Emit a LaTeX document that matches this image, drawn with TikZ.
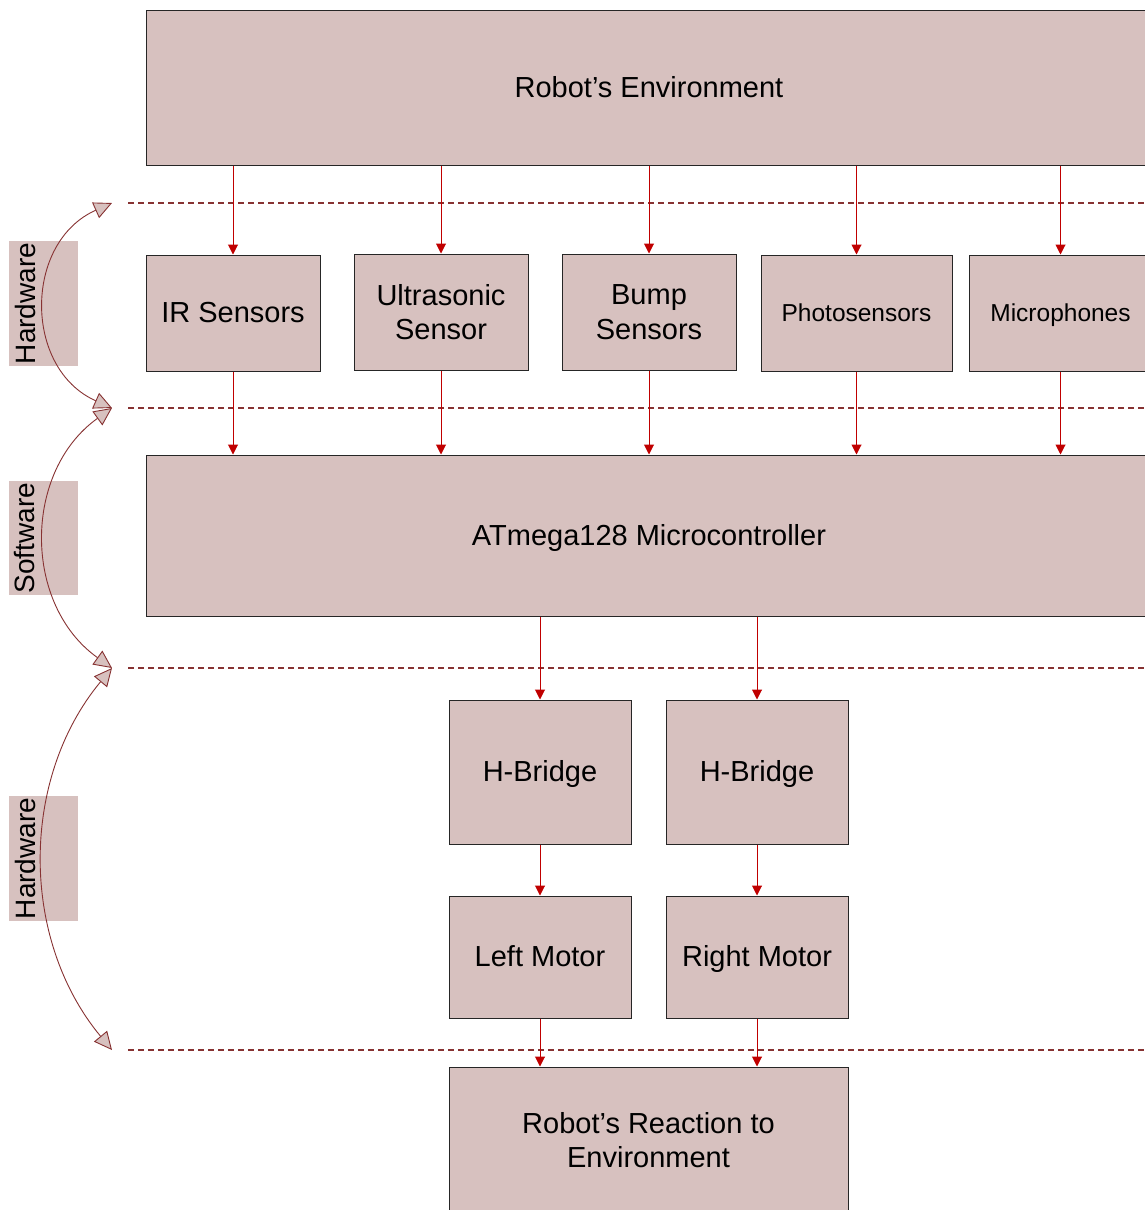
\documentclass[tikz,border=0pt]{standalone}
\usepackage{fontspec}
\setmainfont{Liberation Sans}
\usetikzlibrary{arrows.meta}
\definecolor{boxfill}{RGB}{215,193,191}
\definecolor{flowred}{RGB}{192,0,0}
\definecolor{layerline}{RGB}{135,50,50}
\begin{document}
\begin{tikzpicture}[x=1pt,y=-1pt,
  blk/.style={draw=black!85, line width=1pt, fill=boxfill, inner sep=0pt, align=center,
              font=\fontsize{29}{34.5}\selectfont},
  oneline/.style={text height=19pt, text depth=0pt},
  smallblk/.style={blk, font=\fontsize{24.5}{29}\selectfont, text height=16pt, text depth=0pt},
  flow/.style={draw=flowred, line width=1pt, -{Triangle[length=10pt,width=10pt]}},
  layer/.style={draw=layerline, line width=1.3pt, dash pattern=on 6pt off 4pt},
  span/.style={draw=layerline, line width=0.9pt,
               {Triangle[length=18pt,width=17pt,fill=boxfill]}-{Triangle[length=18pt,width=17pt,fill=boxfill]}},
  tagbox/.style={fill=boxfill, inner sep=0pt, minimum width=69pt},
  taglabel/.style={rotate=90, font=\fontsize{28}{34}\selectfont, inner sep=0pt}]
\useasboundingbox (0,0) rectangle (1145,1210);
\clip (0,0) rectangle (1145,1210);

% layer separators
\coordinate (l1a) at (128,203);  \coordinate (l1b) at (1145,203);
\coordinate (l2a) at (128,408);  \coordinate (l2b) at (1145,408);
\coordinate (l3a) at (128,668);  \coordinate (l3b) at (1145,668);
\coordinate (l4a) at (128,1050); \coordinate (l4b) at (1145,1050);
\draw[layer] (l1a) -- (l1b);
\draw[layer] (l2a) -- (l2b);
\draw[layer] (l3a) -- (l3b);
\draw[layer] (l4a) -- (l4b);

% blocks
\node[blk, oneline, minimum width=1006pt, minimum height=155pt] (env) at (649,87.5) {Robot’s Environment};
\node[blk, oneline, minimum width=174pt, minimum height=116pt] (ir) at (233,313) {IR Sensors};
\node[blk, minimum width=174pt, minimum height=116pt] (us) at (441,312) {Ultrasonic\\Sensor};
\node[blk, minimum width=174pt, minimum height=116pt] (bump) at (649,312) {Bump\\Sensors};
\node[smallblk, minimum width=191pt, minimum height=116pt] (photo) at (856.5,313) {Photosensors};
\node[smallblk, minimum width=183pt, minimum height=116pt] (mic) at (1060.5,313) {Microphones};
\node[blk, oneline, minimum width=1006pt, minimum height=161pt] (mcu) at (649,535.5) {ATmega128 Microcontroller};
\node[blk, oneline, minimum width=182pt, minimum height=144pt] (hb1) at (540,772) {H-Bridge};
\node[blk, oneline, minimum width=182pt, minimum height=144pt] (hb2) at (757,772) {H-Bridge};
\node[blk, oneline, minimum width=182pt, minimum height=122pt] (lm) at (540,957) {Left Motor};
\node[blk, oneline, minimum width=182pt, minimum height=122pt] (rm) at (757,957) {Right Motor};
\node[blk, minimum width=399pt, minimum height=146pt] (react) at (648.5,1140) {Robot’s Reaction to\\Environment};

% flows
\foreach \s in {ir,us,bump,photo,mic}{
  \draw[flow] (env.south -| \s) -- (\s.north);
  \draw[flow] (\s.south) -- (mcu.north -| \s);
}
\draw[flow] (mcu.south -| hb1) -- (hb1.north);
\draw[flow] (mcu.south -| hb2) -- (hb2.north);
\draw[flow] (hb1.south) -- (lm.north);
\draw[flow] (hb2.south) -- (rm.north);
\draw[flow] (lm.south) -- (react.north -| lm);
\draw[flow] (rm.south) -- (react.north -| rm);

% side tags
\node[tagbox, minimum height=125pt] (tag1) at (43.5,303.5) {};
\node[taglabel] (lab1) at (25,303.5) {Hardware};
\node[tagbox, minimum height=114pt] (tag2) at (43.5,538) {};
\node[taglabel] (lab2) at (25,538) {Software};
\node[tagbox, minimum height=125pt] (tag3) at (43.5,858.5) {};
\node[taglabel] (lab3) at (25,858.5) {Hardware};

% spans
\coordinate (s1) at (112,203);
\coordinate (s2) at (112,408);
\coordinate (s3) at (112,668);
\coordinate (s4) at (112,1050);
\draw[span] (s1) .. controls (23.5,242.4) and (23.5,368.6) .. (s2);
\draw[span] (s2) .. controls (22.8,471.7) and (22.8,604.3) .. (s3);
\draw[span] (s3) .. controls (20,778.7) and (20,939.3) .. (s4);
\end{tikzpicture}
\end{document}
